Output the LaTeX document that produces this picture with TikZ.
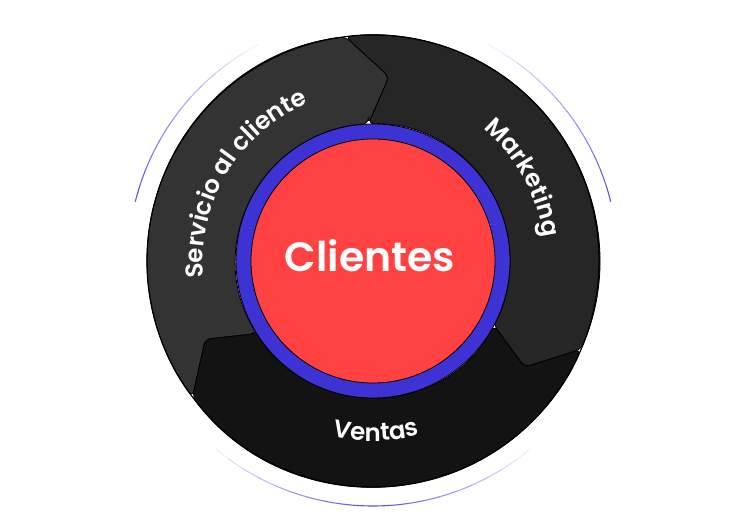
\documentclass[tikz,border=0pt]{standalone}
\usepackage{fontspec}
\setmainfont{Poppins}
\newfontfamily\flyfont{Poppins}[UprightFont={* SemiBold}, BoldFont={* SemiBold}]
\usetikzlibrary{decorations.text}

\definecolor{servicegray}{HTML}{333333}
\definecolor{marketgray}{HTML}{262626}
\definecolor{salesgray}{HTML}{131313}
\definecolor{ringblue}{HTML}{3D33D4}
\definecolor{clientred}{HTML}{FF4141}
\definecolor{haloblue}{HTML}{5B52E0}

\tikzset{
  ringpart/.style={draw=black, line width=0.8pt, rounded corners=6pt},
  halo/.style={draw=haloblue, line width=1.1pt},
  ringlabel/.style={decorate, decoration={text along path, text align=center, text color=white,
    text={|\flyfont\fontsize{24.5}{28}\selectfont|#1}}}
}

\begin{document}
\begin{tikzpicture}[x=1pt, y=1pt]
\useasboundingbox (-373,-268) rectangle (379,261);

% faint halo around the wheel
\foreach \i [evaluate=\i as \op using 1-\i/12] in {0,...,11} {
  \draw[halo, draw opacity=\op] (166-4*\i:245) arc[start angle=166-4*\i, end angle=162-4*\i, radius=245];
  \draw[halo, draw opacity=\op] (14+4*\i:245) arc[start angle=14+4*\i, end angle=18+4*\i, radius=245];
}
\foreach \i [evaluate=\i as \op using 1-\i/10] in {0,...,9} {
  \draw[halo, draw opacity=\op] (270+4*\i:245) arc[start angle=270+4*\i, end angle=274+4*\i, radius=245];
  \draw[halo, draw opacity=\op] (270-4*\i:245) arc[start angle=270-4*\i, end angle=266-4*\i, radius=245];
}

% the three parts of the wheel
\foreach \t/\col in {85/servicegray, -35/marketgray, 205/salesgray} {
  \filldraw[ringpart, fill=\col] (\t+7:137) -- (\t:185) -- (\t+12:226)
    arc[start angle=\t+12, end angle=\t+132, radius=226]
    -- (\t+120:185) -- (\t+127:137)
    arc[start angle=\t+127, end angle=\t+7, radius=137] -- cycle;
}
\draw[line width=1.2pt] (0,0) circle[radius=226];

% hub
\node[circle, fill=ringblue, draw=black, line width=0.8pt, minimum size=274pt, inner sep=0pt] (band) at (0,0) {};
\node[circle, fill=clientred, draw=black, line width=0.8pt, minimum size=244pt, inner sep=0pt] (clientes) at (0,0) {};
\node[text=white, font=\flyfont\fontsize{41}{44}\selectfont] (clientlabel) at ([shift={(-3,5)}]clientes.center) {Clientes};

% labels on the wheel
\path[ringlabel=Servicio al cliente] (209:170) arc[start angle=209, end angle=89, radius=170];
\path[ringlabel=Marketing] (89:172) arc[start angle=89, end angle=-31, radius=172];
\path[ringlabel=Ventas] (211:180) arc[start angle=211, end angle=331, radius=180];
\end{tikzpicture}
\end{document}
